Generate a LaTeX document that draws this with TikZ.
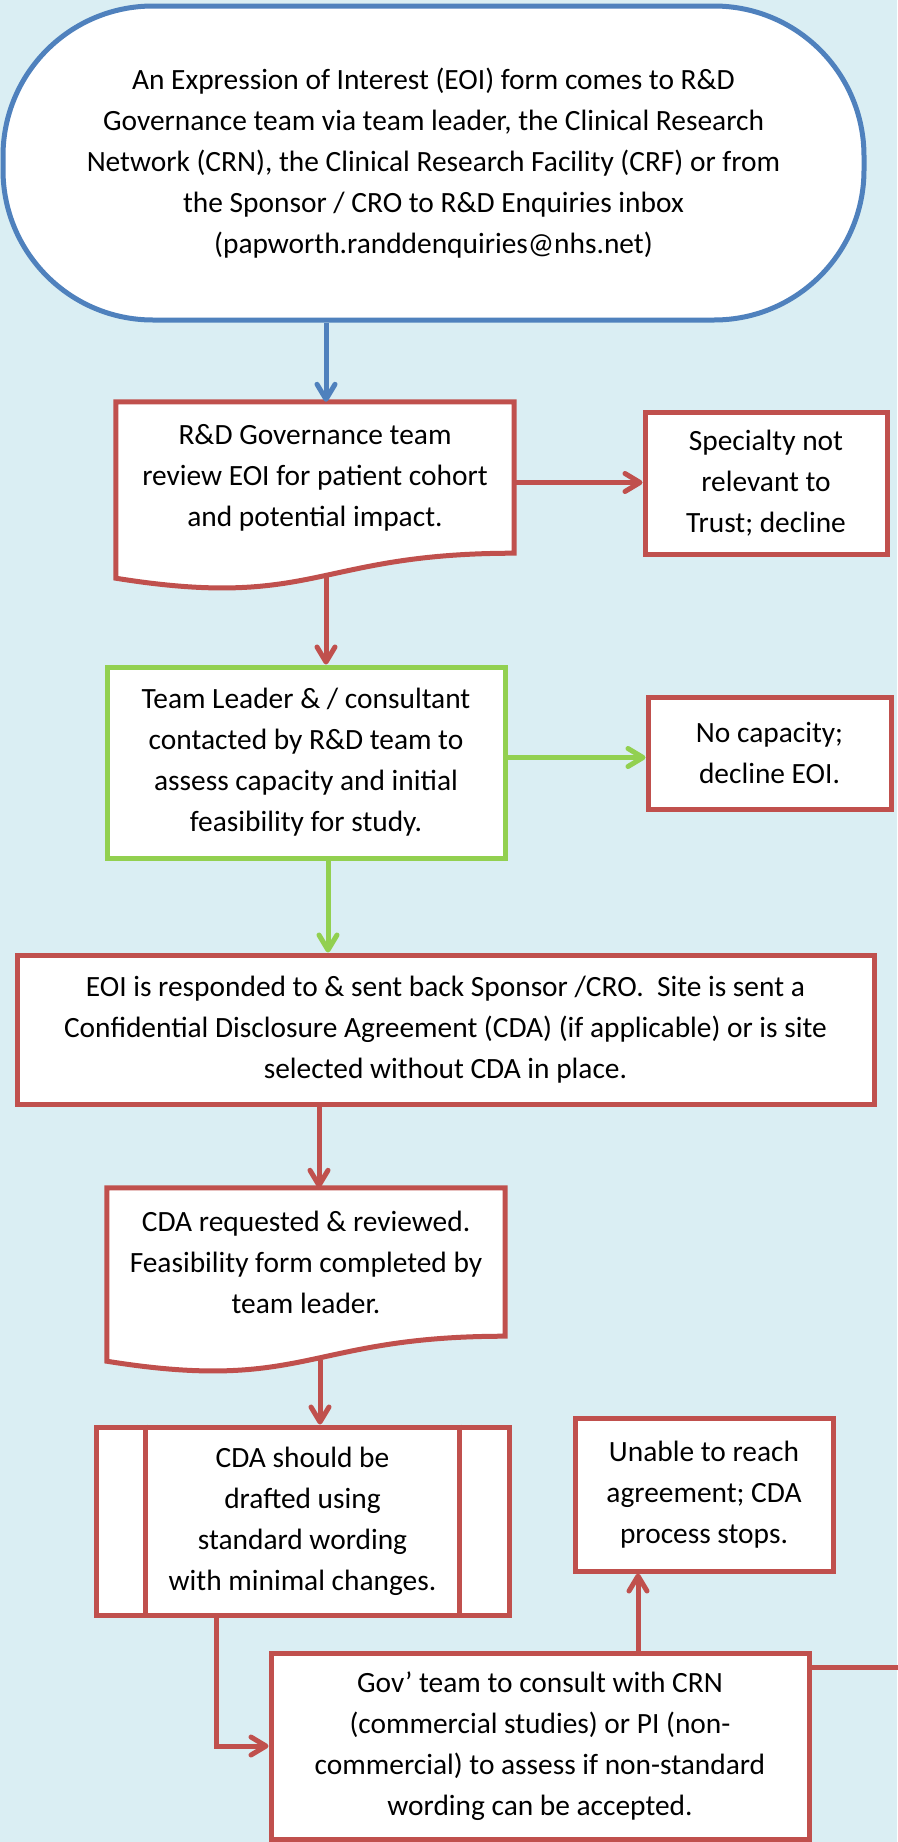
\documentclass[tikz,border=0pt]{standalone}
\usepackage{fontspec}
\setmainfont{Carlito}
\usetikzlibrary{arrows.meta,calc}
\definecolor{pagebg}{HTML}{DAEEF3}
\definecolor{boxred}{HTML}{C0504D}
\definecolor{boxblue}{HTML}{4F81BD}
\definecolor{boxgreen}{HTML}{92D050}
\pgfdeclarelayer{back}
\pgfdeclarelayer{shapes}
\pgfsetlayers{back,shapes,main}
\newcommand{\boxfont}{\fontsize{29.4}{41}\selectfont}
\tikzset{every node/.style={align=center,font=\boxfont},
	redbox/.style={draw=boxred,line width=5pt,fill=white,inner sep=0pt},
	greenbox/.style={redbox,draw=boxgreen},
	termbox/.style={draw=boxblue,line width=5pt,fill=white,rounded corners=150pt},
	docbox/.style={inner sep=0pt},
	redline/.style={draw=boxred,line width=5pt},
	redarrow/.style={redline,-{Straight Barb[length=15pt,width=18pt,round]}},
	greenarrow/.style={redarrow,draw=boxgreen},
	bluearrow/.style={redarrow,draw=boxblue}}
% wavy bottom of a document box, drawn under the text
\newcommand{\docwave}[1]{%
	\begin{pgfonlayer}{shapes}
	\draw[redline,fill=white] (#1.north west) -- (#1.north east) -- (#1.south east)
		.. controls (#1.south) and ([yshift=-57pt]#1.south) .. ([yshift=-25pt]#1.south west) -- cycle;
	\end{pgfonlayer}}

\begin{document}
\begin{tikzpicture}[x=1pt, y=-1pt]
\begin{pgfonlayer}{back}
\fill[pagebg] (0,0) rectangle (897,1842);
\end{pgfonlayer}
\useasboundingbox (0,0) rectangle (897,1842);

\node[termbox, minimum width=861pt, minimum height=314pt] (eoi) at (433.5,163)
	{An Expression of Interest (EOI) form comes to R\&D\\
	Governance team via team leader, the Clinical Research\\
	Network (CRN), the Clinical Research Facility (CRF) or from\\
	the Sponsor / CRO to R\&D Enquiries inbox\\
	(papworth.randdenquiries@nhs.net)};
\node[docbox, minimum width=398pt, minimum height=151pt] (review) at (315,477.5)
	{R\&D Governance team\\ review EOI for patient cohort\\ and potential impact.};
\docwave{review}
\node[redbox, minimum width=242pt, minimum height=142pt] (notrust) at (766,483)
	{Specialty not\\ relevant to\\ Trust; decline};
\node[greenbox, minimum width=398pt, minimum height=191pt] (team) at (306,762.5)
	{Team Leader \& / consultant\\ contacted by R\&D team to\\ assess capacity and initial\\ feasibility for study.};
\node[redbox, minimum width=243pt, minimum height=112pt] (nocap) at (769.5,753)
	{No capacity;\\ decline EOI.};
\node[redbox, minimum width=857pt, minimum height=149pt] (respond) at (445.5,1029.5)
	{EOI is responded to \& sent back Sponsor /CRO.\ \ Site is sent a\\
	Confidential Disclosure Agreement (CDA) (if applicable) or is site\\
	selected without CDA in place.};
\node[docbox, minimum width=398pt, minimum height=148pt] (request) at (306,1262)
	{CDA requested \& reviewed.\\ Feasibility form completed by\\ team leader.};
\docwave{request}
\node[redbox, minimum width=413pt, minimum height=188pt] (draft) at (302.5,1521)
	{CDA should be\\ drafted using\\ standard wording\\ with minimal changes.};
\draw[redline] ([xshift=51.6pt]draft.north west) -- ([xshift=51.6pt]draft.south west);
\draw[redline] ([xshift=-51.6pt]draft.north east) -- ([xshift=-51.6pt]draft.south east);
\node[redbox, minimum width=258pt, minimum height=153pt] (unable) at (704,1494.5)
	{Unable to reach\\ agreement; CDA\\ process stops.};
\node[redbox, minimum width=538pt, minimum height=186pt] (gov) at (540,1746)
	{Gov’ team to consult with CRN\\ (commercial studies) or PI (non-\\
	commercial) to assess if non-standard\\ wording can be accepted.};
\coordinate (offpage) at (905,1667);

% connectors
\draw[bluearrow] ([xshift=11pt]review.north |- eoi.south) -- ([xshift=11pt]review.north);
\draw[redarrow] ([yshift=-5pt]review.east) -- ([yshift=-5pt]review.east -| notrust.west);
\draw[redarrow] ([xshift=11pt,yshift=-24pt]review.south) -- ([xshift=11pt]review.south |- team.north);
\draw[greenarrow] ([yshift=5pt]team.east) -- ([yshift=5pt]team.east -| nocap.west);
\draw[greenarrow] ([xshift=22pt]team.south) -- ([xshift=22pt]team.south |- respond.north);
\draw[redarrow] ([xshift=13pt]request.north |- respond.south) -- ([xshift=13pt]request.north);
\draw[redarrow] ([xshift=14pt,yshift=-24pt]request.south) -- ([xshift=14pt]request.south |- draft.north);
\draw[redarrow] ([xshift=-86.5pt]draft.south) |- (gov.west);
\draw[redarrow] ([xshift=-66pt]unable.south |- gov.north) -- ([xshift=-66pt]unable.south);
\draw[redline] (gov.east |- offpage) -- (offpage);
\end{tikzpicture}
\end{document}
